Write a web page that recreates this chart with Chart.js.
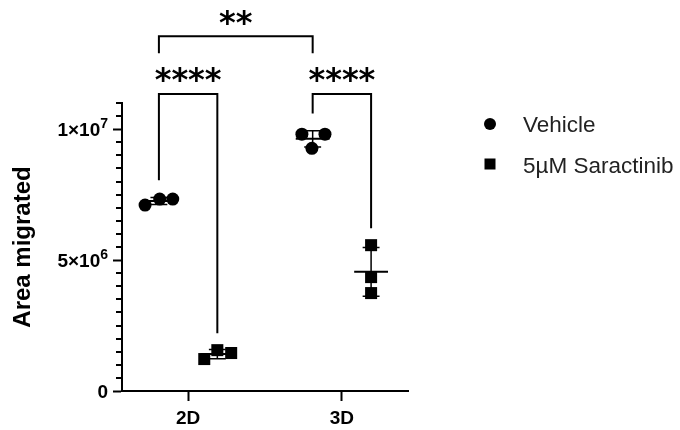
<!DOCTYPE html>
<html lang="en">
<head>
<meta charset="UTF-8">
<title>Area migrated</title>
<script src="https://cdn.jsdelivr.net/npm/chart.js"></script>
<style>
  html, body { margin: 0; padding: 0; background: #fff; }
  #wrap { width: 680px; height: 430px; }
</style>
</head>
<body>
<div id="wrap"><canvas id="grafico"></canvas></div>
<script>
// valores
const groups = ['2D', '3D'];
const seriesLabels = ['Vehicle', '5µM Saractinib'];
const vehicle2D = [7.10e6, 7.33e6, 7.33e6];
const vehicle3D = [9.81e6, 9.27e6, 9.81e6];
const saractinib2D = [1.22e6, 1.56e6, 1.45e6];
const saractinib3D = [5.57e6, 4.35e6, 3.74e6];
const yTickValues = [0, 5e6, 1e7];
const yTickLabels = ['0', '5×10^6', '1×10^7'];
const sigLabels = ['**', '****', '****'];

// posição horizontal dos pontos dentro de cada grupo
const offset = [-0.19, 0.19];
const jitterVehicle2D = [-0.09, 0.005, 0.09];
const jitterVehicle3D = [-0.07, -0.005, 0.08];
const jitterSar2D = [-0.085, 0, 0.09];
const jitterSar3D = [0, 0, 0];

function pontos(values, g, s, jitter) {
    return values.map(function (v, i) {
        return { x: g + 1 + offset[s] + jitter[i], y: v };
    });
}

const vehiclePts = pontos(vehicle2D, 0, 0, jitterVehicle2D).concat(pontos(vehicle3D, 1, 0, jitterVehicle3D));
const sarPts = pontos(saractinib2D, 0, 1, jitterSar2D).concat(pontos(saractinib3D, 1, 1, jitterSar3D));

const resumo = [
    { g: 0, s: 0, v: vehicle2D },
    { g: 1, s: 0, v: vehicle3D },
    { g: 0, s: 1, v: saractinib2D },
    { g: 1, s: 1, v: saractinib3D }
];

// colchetes de significância (x em unidades do eixo, y em valores)
const brackets = [
    { x1: 0.81, x2: 1.81, top: 13.55e6, leg1: 12.9e6, leg2: 12.9e6, ty: 14.27e6 },
    { x1: 0.81, x2: 1.19, top: 11.34e6, leg1: 8.05e6, leg2: 2.21e6, ty: 12.08e6 },
    { x1: 1.81, x2: 2.19, top: 11.34e6, leg1: 10.6e6, leg2: 6.22e6, ty: 12.08e6 }
];

function media(a) {
    var s = 0;
    for (var i = 0; i < a.length; i++) s += a[i];
    return s / a.length;
}
function desvio(a) {
    var m = media(a), s = 0;
    for (var i = 0; i < a.length; i++) s += (a[i] - m) * (a[i] - m);
    return Math.sqrt(s / (a.length - 1));
}

const extras = {
    id: 'extras',
    afterDatasetsDraw: function (chart) {
        var ctx = chart.ctx, x = chart.scales.x, y = chart.scales.y;
        ctx.save();
        ctx.strokeStyle = '#000';
        resumo.forEach(function (r) {
            var cx = r.g + 1 + offset[r.s];
            var m = media(r.v), sd = desvio(r.v);
            ctx.lineWidth = 2;
            ctx.beginPath();
            ctx.moveTo(x.getPixelForValue(cx - 0.11), y.getPixelForValue(m));
            ctx.lineTo(x.getPixelForValue(cx + 0.11), y.getPixelForValue(m));
            ctx.stroke();
            ctx.lineWidth = 1.5;
            ctx.beginPath();
            ctx.moveTo(x.getPixelForValue(cx), y.getPixelForValue(m - sd));
            ctx.lineTo(x.getPixelForValue(cx), y.getPixelForValue(m + sd));
            [m - sd, m + sd].forEach(function (v) {
                ctx.moveTo(x.getPixelForValue(cx - 0.055), y.getPixelForValue(v));
                ctx.lineTo(x.getPixelForValue(cx + 0.055), y.getPixelForValue(v));
            });
            ctx.stroke();
        });
        ctx.restore();
    },
    afterDraw: function (chart) {
        var ctx = chart.ctx, x = chart.scales.x, y = chart.scales.y;
        ctx.save();
        ctx.strokeStyle = '#000';
        ctx.fillStyle = '#000';

        // ticks menores do eixo y
        ctx.lineWidth = 2;
        ctx.beginPath();
        for (var v = 5e5; v <= 1.1e7 + 1; v += 5e5) {
            if (Math.abs(v % 5e6) < 1) continue;
            var py = Math.round(y.getPixelForValue(v));
            ctx.moveTo(y.right - 6, py);
            ctx.lineTo(y.right, py);
        }
        ctx.stroke();

        // rótulos do eixo y com expoente
        ctx.textBaseline = 'alphabetic';
        ctx.textAlign = 'left';
        yTickValues.forEach(function (v, i) {
            var partes = yTickLabels[i].split('^');
            var base = y.getPixelForValue(v) + 7;
            var fBase = 'bold 19px "Liberation Sans", Arial';
            var fExp = 'bold 14px "Liberation Sans", Arial';
            ctx.font = fBase;
            var w1 = ctx.measureText(partes[0]).width;
            var w2 = 0;
            if (partes[1]) {
                ctx.font = fExp;
                w2 = ctx.measureText(partes[1]).width;
            }
            var xr = y.right - 14;
            ctx.font = fBase;
            ctx.fillText(partes[0], xr - w1 - w2, base);
            if (partes[1]) {
                ctx.font = fExp;
                ctx.fillText(partes[1], xr - w2, base - 8);
            }
        });

        // colchetes
        ctx.lineWidth = 2;
        ctx.font = 'bold 32px "DejaVu Sans"';
        ctx.textAlign = 'center';
        brackets.forEach(function (b, i) {
            var xa = x.getPixelForValue(b.x1), xb = x.getPixelForValue(b.x2);
            var yt = y.getPixelForValue(b.top);
            ctx.beginPath();
            ctx.moveTo(xa, y.getPixelForValue(b.leg1));
            ctx.lineTo(xa, yt);
            ctx.lineTo(xb, yt);
            ctx.lineTo(xb, y.getPixelForValue(b.leg2));
            ctx.stroke();
            var m = ctx.measureText(sigLabels[i]);
            var h = m.actualBoundingBoxAscent - m.actualBoundingBoxDescent;
            ctx.fillText(sigLabels[i], (xa + xb) / 2, y.getPixelForValue(b.ty) + h / 2);
        });

        // legenda
        ctx.beginPath();
        ctx.arc(490, 124, 6, 0, Math.PI * 2);
        ctx.fill();
        ctx.fillRect(484.5, 158.5, 11, 11);
        ctx.fillStyle = '#222';
        ctx.font = '22.5px "Liberation Sans", Arial';
        ctx.textAlign = 'left';
        ctx.fillText(seriesLabels[0], 523, 132);
        ctx.fillText(seriesLabels[1], 523, 173);
        ctx.restore();
    }
};

var ctx = document.getElementById('grafico').getContext('2d');
var myChart = new Chart(ctx, {
    type: 'scatter',
    data: {
        datasets: [{
            label: seriesLabels[0],
            data: vehiclePts,
            pointStyle: 'circle',
            pointRadius: 6.5,
            backgroundColor: '#000',
            borderColor: '#000',
            borderWidth: 0
        }, {
            label: seriesLabels[1],
            data: sarPts,
            pointStyle: 'rect',
            pointRadius: 8.5,
            backgroundColor: '#000',
            borderColor: '#000',
            borderWidth: 0
        }]
    },
    options: {
        responsive: true,
        maintainAspectRatio: false,
        animation: false,
        layout: {
            padding: { top: 103, right: 272, left: 0, bottom: 0 }
        },
        plugins: {
            legend: { display: false },
            tooltip: { enabled: false }
        },
        scales: {
            x: {
                type: 'linear',
                min: 0.57,
                max: 2.43,
                afterBuildTicks: function (scale) {
                    scale.ticks = [{ value: 1 }, { value: 2 }];
                },
                afterFit: function (scale) {
                    scale.height = 39;
                },
                border: { color: '#000', width: 2 },
                grid: { drawOnChartArea: false, drawTicks: true, tickLength: 10, tickWidth: 2, tickColor: '#000' },
                ticks: {
                    color: '#000',
                    padding: 6,
                    font: { family: '"Liberation Sans", Arial', size: 19, weight: 'bold' },
                    callback: function (v) { return groups[v - 1]; }
                }
            },
            y: {
                min: 0,
                max: 1.1e7,
                afterBuildTicks: function (scale) {
                    scale.ticks = yTickValues.map(function (v) { return { value: v }; });
                },
                afterFit: function (scale) {
                    scale.width = 122;
                },
                border: { color: '#000', width: 2 },
                grid: { drawOnChartArea: false, drawTicks: true, tickLength: 9, tickWidth: 2, tickColor: '#000' },
                ticks: { display: false },
                title: {
                    display: true,
                    text: 'Area migrated',
                    color: '#000',
                    font: { family: '"Liberation Sans", Arial', size: 24, weight: 'bold' },
                    padding: { top: 9, bottom: 0 }
                }
            }
        }
    },
    plugins: [extras]
});
</script>
</body>
</html>
